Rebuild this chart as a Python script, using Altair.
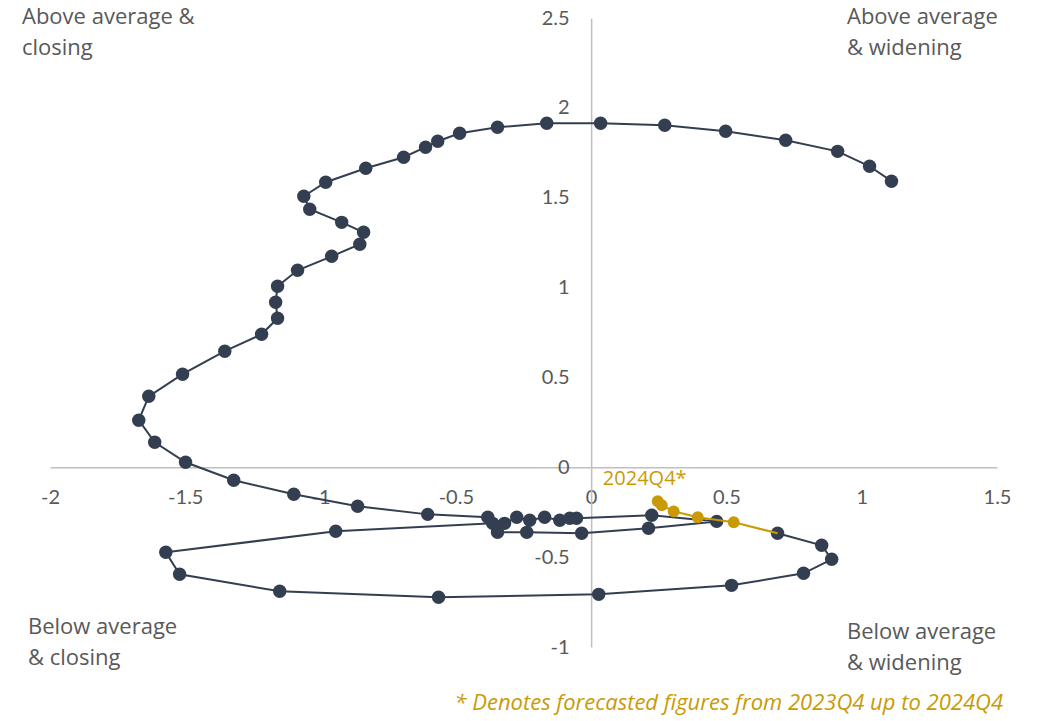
import altair as alt
import pandas as pd

# ---- data ----
hist_x = [1.110, 1.029, 0.911, 0.719, 0.497, 0.272, 0.035, -0.164, -0.346, -0.486,
          -0.567, -0.612, -0.693, -0.833, -0.981, -1.062, -1.040, -0.922, -0.841, -0.855,
          -0.959, -1.085, -1.159, -1.166, -1.159, -1.218, -1.354, -1.510, -1.635, -1.672,
          -1.613, -1.499, -1.321, -1.099, -0.863, -0.604, -0.382, -0.320, -0.275, -0.227,
          -0.172, -0.116, -0.079, -0.054, 0.224, 0.464, 0.212, -0.035, -0.238, -0.346,
          -0.364, -0.944, -1.572, -1.521, -1.151, -0.564, 0.028, 0.519, 0.785, 0.889,
          0.852, 0.689]
hist_y = [1.592, 1.675, 1.758, 1.820, 1.870, 1.903, 1.914, 1.914, 1.892, 1.859,
          1.814, 1.781, 1.725, 1.664, 1.586, 1.508, 1.436, 1.363, 1.308, 1.241,
          1.174, 1.096, 1.007, 0.918, 0.829, 0.740, 0.646, 0.518, 0.395, 0.262,
          0.139, 0.028, -0.072, -0.150, -0.217, -0.262, -0.278, -0.312, -0.278, -0.295,
          -0.278, -0.295, -0.284, -0.284, -0.267, -0.301, -0.339, -0.367, -0.362, -0.362,
          -0.312, -0.356, -0.473, -0.595, -0.690, -0.723, -0.707, -0.657, -0.590, -0.512,
          -0.434, -0.367]

fc_quarters = ["2023Q4", "2024Q1", "2024Q2", "2024Q3", "2024Q4"]
fc_x = [0.527, 0.394, 0.305, 0.261, 0.246]
fc_y = [-0.306, -0.278, -0.245, -0.211, -0.189]

x_ticks = [-2, -1.5, -1, -0.5, 0, 0.5, 1, 1.5]
y_ticks = [-1, -0.5, 0, 0.5, 1, 1.5, 2, 2.5]

quadrant_labels = [
    ["Above average &", "closing"],
    ["Above average", "& widening"],
    ["Below average", "& closing"],
    ["Below average", "& widening"],
]
footnote = "* Denotes forecasted figures from 2023Q4  up to 2024Q4"
last_label = "2024Q4*"

# ---- styles ----
NAVY = "#333F50"
GOLD = "#C99A06"
GREY = "#595959"
FONT = "Lato"
TFONT = "Open Sans"
W, H = 947, 629

hist = pd.DataFrame({"x": hist_x, "y": hist_y, "i": list(range(len(hist_x)))})
fc_line = pd.DataFrame({"x": [hist_x[-1]] + fc_x, "y": [hist_y[-1]] + fc_y,
                        "i": list(range(len(fc_x) + 1))})
fc_pts = pd.DataFrame({"x": fc_x, "y": fc_y, "q": fc_quarters})
last_pt = pd.DataFrame({"x": [fc_x[-1]], "y": [fc_y[-1]], "t": [last_label]})

xscale = alt.Scale(domain=[-2, 1.5], nice=False, zero=False)
yscale = alt.Scale(domain=[-1, 2.5], nice=False, zero=False)

xaxis = alt.Axis(values=x_ticks, title=None, grid=False, ticks=False,
                 offset=-H * 1.0 / 3.5, domainColor="#BFBFBF", domainWidth=1.5,
                 labelColor=GREY, labelFont=FONT, labelFontSize=20, labelPadding=20,
                 labelExpr="datum.value + ''", labelFlush=False, labelOverlap=False)
yaxis = alt.Axis(values=y_ticks, title=None, grid=False, ticks=False,
                 offset=-W * 2.0 / 3.5, domainColor="#BFBFBF", domainWidth=1.5,
                 labelColor=GREY, labelFont=FONT, labelFontSize=20, labelPadding=22,
                 labelExpr="datum.value + ''", labelFlush=False, labelOverlap=False)

X = alt.X("x:Q", scale=xscale, axis=xaxis)
Y = alt.Y("y:Q", scale=yscale, axis=yaxis)

hist_line = alt.Chart(hist).mark_line(color=NAVY, strokeWidth=2).encode(x=X, y=Y, order="i:Q")
hist_pts = alt.Chart(hist).mark_circle(color=NAVY, size=180, opacity=1).encode(x=X, y=Y)
gold_line = alt.Chart(fc_line).mark_line(color=GOLD, strokeWidth=2).encode(x=X, y=Y, order="i:Q")
gold_pts = alt.Chart(fc_pts).mark_circle(color=GOLD, size=140, opacity=1).encode(x=X, y=Y)
gold_lbl = alt.Chart(last_pt).mark_text(color=GOLD, font=TFONT, fontSize=20, align="center",
                                        baseline="middle", dx=-13, dy=-22).encode(x=X, y=Y, text="t:N")

ann_pos = [(-28, 6), (797, 6), (-22, 616), (797, 621)]
layers = [hist_line, hist_pts, gold_line, gold_pts, gold_lbl]
dummy = pd.DataFrame({"d": [0]})
for lines, (px, py) in zip(quadrant_labels, ann_pos):
    layers.append(
        alt.Chart(dummy).mark_text(color=GREY, font=TFONT, fontSize=22, align="left",
                                   baseline="alphabetic", lineHeight=31).encode(
            x=alt.value(px), y=alt.value(py), text=alt.value(lines))
    )
layers.append(
    alt.Chart(dummy).mark_text(color=GOLD, font=TFONT, fontSize=22, fontStyle="italic",
                               align="right", baseline="alphabetic").encode(
        x=alt.value(953), y=alt.value(692), text=alt.value(footnote))
)

chart = alt.layer(*layers).properties(
    width=W, height=H,
    background="white",
    autosize=alt.AutoSizeParams(type="none"),
    padding={"left": 50, "top": 18, "right": 46, "bottom": 74},
).configure_view(stroke=None)

chart.save("out.html", embed_options={"renderer": "svg", "actions": False})
